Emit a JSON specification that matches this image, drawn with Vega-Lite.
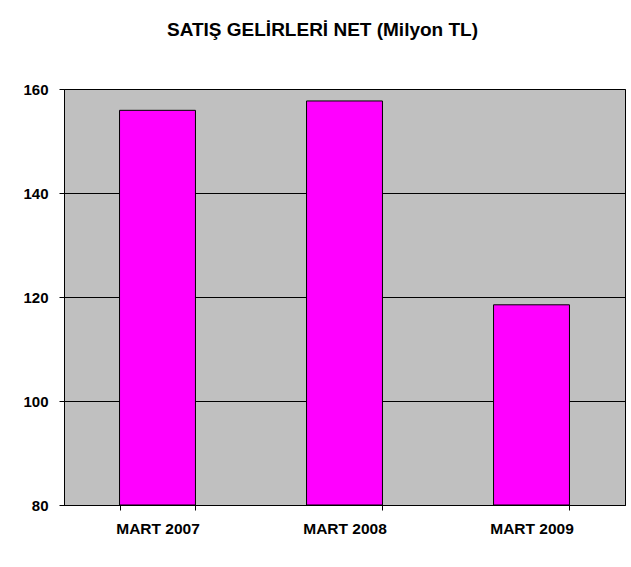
{
  "$schema": "https://vega.github.io/schema/vega-lite/v6.json",
  "autosize": "none",
  "width": 561,
  "height": 416,
  "padding": {"left": 64, "top": 89, "right": 6, "bottom": 62},
  "background": "white",
  "title": {
    "text": "SATIŞ GELİRLERİ NET (Milyon TL)",
    "font": "Liberation Sans",
    "fontSize": 19,
    "fontWeight": "bold",
    "color": "black",
    "anchor": "middle",
    "dx": -22,
    "baseline": "alphabetic",
    "offset": 27
  },
  "data": {
    "values": [
      {"donem": "MART 2007", "deger": 155.9},
      {"donem": "MART 2008", "deger": 157.7},
      {"donem": "MART 2009", "deger": 118.5}
    ]
  },
  "mark": {"type": "bar", "color": "#FF00FF", "stroke": "black", "strokeWidth": 1, "clip": true},
  "encoding": {
    "x": {
      "field": "donem",
      "type": "nominal",
      "sort": null,
      "title": null,
      "scale": {"paddingInner": 0.594, "paddingOuter": 0.297},
      "axis": {
        "labelAngle": 0,
        "labelFont": "Liberation Sans",
        "labelFontSize": 15.5,
        "labelFontWeight": "bold",
        "labelColor": "black",
        "labelPadding": 11,
        "tickBand": "extent",
        "tickSize": 5,
        "tickColor": "black",
        "domainColor": "black",
        "grid": false
      }
    },
    "y": {
      "field": "deger",
      "type": "quantitative",
      "title": null,
      "scale": {"domain": [80, 160], "zero": false, "nice": false},
      "axis": {
        "values": [80, 100, 120, 140, 160],
        "labelFont": "Liberation Sans",
        "labelFontSize": 15,
        "labelFontWeight": "bold",
        "labelColor": "black",
        "labelPadding": 11,
        "tickSize": 5,
        "tickColor": "black",
        "domainColor": "black",
        "grid": true,
        "gridColor": "black",
        "gridOpacity": 1,
        "gridWidth": 1
      }
    },
    "y2": {"datum": 80}
  },
  "config": {
    "view": {"fill": "#C0C0C0", "stroke": "black", "strokeWidth": 1}
  }
}
